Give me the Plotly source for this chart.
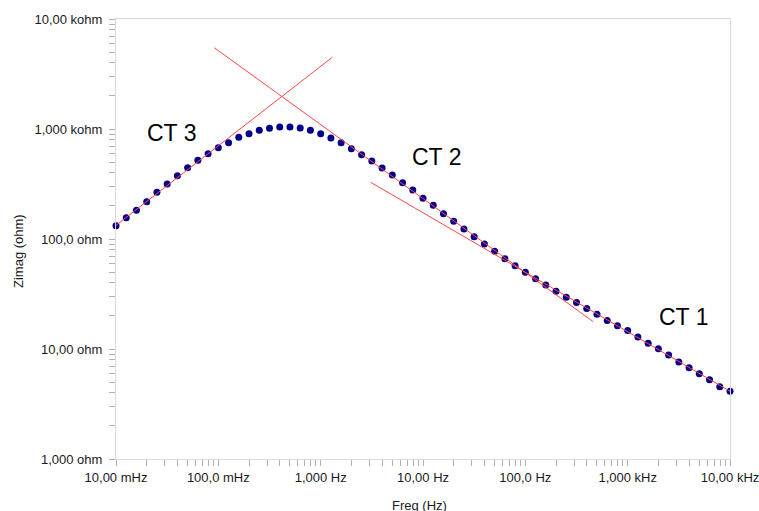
import plotly.graph_objects as go

# ---- data ----
freq_hz = [
    0.01, 0.01259, 0.01585, 0.01995, 0.02512, 0.03162, 0.03981, 0.05012, 0.0631, 0.07943,
    0.1, 0.1259, 0.1585, 0.1995, 0.2512, 0.3162, 0.3981, 0.5012, 0.631, 0.7943,
    1.0, 1.259, 1.585, 1.995, 2.512, 3.162, 3.981, 5.012, 6.31, 7.943,
    10.0, 12.59, 15.85, 19.95, 25.12, 31.62, 39.81, 50.12, 63.1, 79.43,
    100.0, 125.9, 158.5, 199.5, 251.2, 316.2, 398.1, 501.2, 631.0, 794.3,
    1000.0, 1259.0, 1585.0, 1995.0, 2512.0, 3162.0, 3981.0, 5012.0, 6310.0, 7943.0,
    10000.0,
]
zimag_ohm = [
    132.1, 156.2, 182.4, 218.3, 265.8, 316.2, 376.3, 444.8, 519.4, 596.5,
    676.0, 750.6, 840.5, 906.0, 972.8, 1017.0, 1043.0, 1043.0, 1021.0, 973.0,
    906.0, 828.0, 751.0, 662.0, 584.0, 512.0, 442.0, 382.0, 325.0, 279.0,
    235.0, 202.5, 169.8, 144.9, 123.3, 105.0, 90.1, 77.3, 66.2, 57.2,
    49.8, 43.6, 38.2, 33.5, 29.5, 26.4, 23.3, 20.7, 18.2, 16.3,
    14.7, 12.85, 11.3, 10.06, 8.82, 7.62, 6.76, 5.96, 5.26, 4.54,
    4.13,
]

# tangent lines (two end points each: freq, zimag)
ct3_freq = [0.01, 1.30]
ct3_zimag = [133.2, 4487.0]
ct2_freq = [0.0913, 461.6]
ct2_zimag = [5483.0, 17.7]
ct1_freq = [3.08, 10000.0]
ct1_zimag = [327.7, 4.13]

label_names = ["CT 3", "CT 2", "CT 1"]

x_major_vals = [0.01, 0.1, 1, 10, 100, 1000, 10000]
x_major_text = ["10,00 mHz", "100,0 mHz", "1,000 Hz", "10,00 Hz", "100,0 Hz", "1,000 kHz", "10,00 kHz"]
y_major_vals = [1, 10, 100, 1000, 10000]
y_major_text = ["1,000 ohm", "10,00 ohm", "100,0 ohm", "1,000 kohm", "10,00 kohm"]


def log_ticks(majors, labels):
    vals, texts = [], []
    for i, (m, t) in enumerate(zip(majors, labels)):
        vals.append(m)
        texts.append(t)
        if i < len(majors) - 1:
            for d in range(2, 10):
                vals.append(m * d)
                texts.append("")
    return vals, texts


xt_vals, xt_text = log_ticks(x_major_vals, x_major_text)
yt_vals, yt_text = log_ticks(y_major_vals, y_major_text)

FONT = "Arial, Liberation Sans, sans-serif"
LINE_COLOR = "rgb(255,70,70)"

fig = go.Figure()
fig.add_trace(go.Scatter(
    x=freq_hz, y=zimag_ohm, mode="markers",
    marker=dict(color="#00008b", size=7, line=dict(width=0)),
    cliponaxis=False,
    showlegend=False, hoverinfo="x+y",
))
for fx, fy in [(ct3_freq, ct3_zimag), (ct2_freq, ct2_zimag), (ct1_freq, ct1_zimag)]:
    fig.add_trace(go.Scatter(
        x=fx, y=fy, mode="lines",
        line=dict(color=LINE_COLOR, width=1),
        cliponaxis=False,
        showlegend=False, hoverinfo="skip",
    ))

axis_common = dict(
    showgrid=False, zeroline=False,
    showline=True, linecolor="#d9d9d9", linewidth=1, mirror=True,
    ticks="outside", ticklen=6, tickcolor="#b0b0b0", tickwidth=1,
    tickfont=dict(family=FONT, size=13, color="#1a1a1a"),
    tickmode="array", ticklabeloverflow="allow", automargin=False,
)
fig.update_xaxes(type="log", range=[-2, 4], tickvals=xt_vals, ticktext=xt_text, **axis_common)
fig.update_yaxes(type="log", range=[0, 4], tickvals=yt_vals, ticktext=yt_text,
                 ticklabelstandoff=4, **axis_common)

annotations = [
    dict(text="Freq (Hz)", xref="paper", yref="paper", x=0.495, y=0, yshift=-46,
         xanchor="center", yanchor="middle", showarrow=False,
         font=dict(family=FONT, size=13, color="#1a1a1a")),
    dict(text="Zimag (ohm)", xref="paper", yref="paper", x=0, xshift=-98, y=0.4727,
         xanchor="center", yanchor="middle", textangle=-90, showarrow=False,
         font=dict(family=FONT, size=13, color="#1a1a1a")),
]
label_pos = [(0.0912, 0.7398), (0.5223, 0.687), (0.9248, 0.3234)]
for name, (px, py) in zip(label_names, label_pos):
    annotations.append(dict(text=name, xref="paper", yref="paper", x=px, y=py,
                            xanchor="center", yanchor="middle", showarrow=False,
                            font=dict(family=FONT, size=23, color="#000000")))

fig.update_layout(
    width=759, height=511,
    margin=dict(l=116, r=29, t=19, b=52, autoexpand=False),
    paper_bgcolor="white", plot_bgcolor="white",
    annotations=annotations,
    showlegend=False,
)

fig.write_html("out.html")
